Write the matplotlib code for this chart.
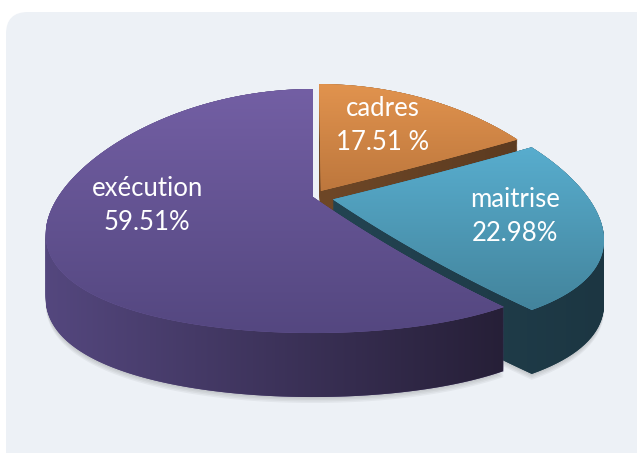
import numpy as np
import matplotlib
matplotlib.use("Agg")
import matplotlib.pyplot as plt
from matplotlib.transforms import Transform, IdentityTransform
from matplotlib.path import Path
from matplotlib.patches import FancyBboxPatch
from matplotlib.colors import to_rgba

# ---- data ----
categories = ["cadres", "maitrise", "exécution"]
shares = [17.51, 22.98, 59.51]
pct_labels = ["17.51 %", "22.98%", "59.51%"]

# ---- style ----
explode = [0.06, 0.08, 0.0]
top_colors = [("#e1934e", "#bd773d"), ("#58adce", "#43849c"), ("#735fa4", "#544780")]
side_colors = [("#6e4727", "#5c3b20"), ("#234452", "#1c3642"), ("#54477e", "#261f37")]
label_r = [0.66, 0.69, 0.64]
label_dang = [5.0, 2.5, -10.5]

W, H, DPI = 637, 453, 100
CX, CY, RX, RY = 313, 197, 255, 120.4
KX, KY = 0.30, 0.115
DEPTH = 64 / RY
NLAYER = 60


class Persp(Transform):
    input_dims = 2
    output_dims = 2
    is_separable = False
    has_inverse = False

    def __init__(self, kx, ky, drop=0.0):
        super().__init__()
        self.kx = kx
        self.ky = ky
        self.drop = drop

    def transform_non_affine(self, values):
        v = np.asarray(values, float)
        shp = v.shape
        v = v.reshape(-1, 2)
        out = np.column_stack([v[:, 0] / (1.0 + self.kx * v[:, 1]),
                               v[:, 1] / (1.0 + self.ky * v[:, 1]) - self.drop])
        return out.reshape(shp)

    def transform_path_non_affine(self, path):
        pts = []
        t = np.linspace(0, 1, 25)[1:]
        for seg, code in path.iter_bezier():
            if code == Path.MOVETO:
                pts.append(np.atleast_2d(seg.control_points))
            else:
                pts.append(np.atleast_2d(seg(t)))
        pts = np.vstack(pts)
        pts = self.transform_non_affine(pts)
        pts = np.vstack([pts, pts[:1]])
        return Path(pts, closed=True)


fig = plt.figure(figsize=(W / DPI, H / DPI), dpi=DPI)
fig.patch.set_facecolor("white")

bg = fig.add_axes([0, 0, 1, 1])
bg.set_xlim(0, W)
bg.set_ylim(H, 0)
bg.axis("off")
bg.add_patch(FancyBboxPatch((6, 12), W + 20, H + 20,
                            boxstyle="round,pad=0,rounding_size=22",
                            facecolor="#edf1f6", edgecolor="none"))

ax = fig.add_axes([0, 0, 1, 1])
ax.patch.set_alpha(0)
XL = (-CX / RX, (W - CX) / RX)
YL = ((CY - H) / RY, CY / RY)


def persp(drop=0.0):
    return Persp(KX, KY, drop)


def draw_pie(drop, colors, **kw):
    wp = dict(transform=persp(drop) + ax.transData, linewidth=0, antialiased=True)
    wp.update(kw)
    wedges, _ = ax.pie(shares, explode=explode, startangle=90, counterclock=False,
                       colors=colors, wedgeprops=wp, frame=True)
    return wedges


# soft shadow under the pie
for extra in [6, 4.5, 3, 1.5]:
    for w in draw_pie(DEPTH + extra / RY, ["#000000"] * 3, alpha=0.045):
        w.set_zorder(0.5)

order_z = [1, 3, 5]  # cadres, maitrise, execution
side_layers = [[], [], []]
for d in np.linspace(DEPTH, 0, NLAYER):
    ws = draw_pie(d, [c[0] for c in side_colors])
    for i, w in enumerate(ws):
        w.set_zorder(order_z[i])
        side_layers[i].append(w)

tops = draw_pie(0.0, [c[0] for c in top_colors])
for i, w in enumerate(tops):
    w.set_zorder(order_z[i] + 1)

ax.set_xlim(*XL)
ax.set_ylim(*YL)
ax.set_aspect("auto")
ax.axis("off")


def grad_img(c0, c1, n, vertical):
    a = np.array(to_rgba(c0))
    b = np.array(to_rgba(c1))
    t = np.linspace(0, 1, n)[:, None]
    g = a * (1 - t) + b * t
    return g[:, None, :] if vertical else g[None, :, :]


# gradients on top faces
for i, w in enumerate(tops):
    ext = persp().transform_path(w.get_path()).get_extents()
    im = ax.imshow(grad_img(*top_colors[i], 256, True),
                   extent=(ext.x0, ext.x1, ext.y0, ext.y1), origin="upper",
                   aspect="auto", zorder=order_z[i] + 1.05, interpolation="bilinear")
    im.set_clip_path(w)

# gradients on sides (union of stacked layers)
fig.canvas.draw()
for i in range(3):
    paths = [w.get_transform().transform_path(w.get_path()) for w in side_layers[i]]
    comp = Path.make_compound_path(*paths)
    pdata = [persp(d).transform_path(side_layers[i][0].get_path()) for d in (0, DEPTH)]
    ext = Path.make_compound_path(*pdata).get_extents()
    im = ax.imshow(grad_img(*side_colors[i], 256, False),
                   extent=(ext.x0, ext.x1, ext.y0, ext.y1), origin="upper",
                   aspect="auto", zorder=order_z[i] + 0.5, interpolation="bilinear")
    im.set_clip_path(comp, IdentityTransform())

ax.set_xlim(*XL)
ax.set_ylim(*YL)
ax.set_aspect("auto")

# labels
for i, w in enumerate(tops):
    mid = np.deg2rad(0.5 * (w.theta1 + w.theta2) + label_dang[i])
    cx, cy = w.center
    px, py = persp().transform(np.array([[cx + label_r[i] * np.cos(mid),
                                          cy + label_r[i] * np.sin(mid)]]))[0]
    ax.text(px, py, f"{categories[i]}\n{pct_labels[i]}", ha="center", va="center",
            color="white", fontsize=18.5, family=["Lato", "DejaVu Sans"],
            linespacing=1.45, zorder=10)

fig.savefig("out.png", dpi=DPI, facecolor="white")
